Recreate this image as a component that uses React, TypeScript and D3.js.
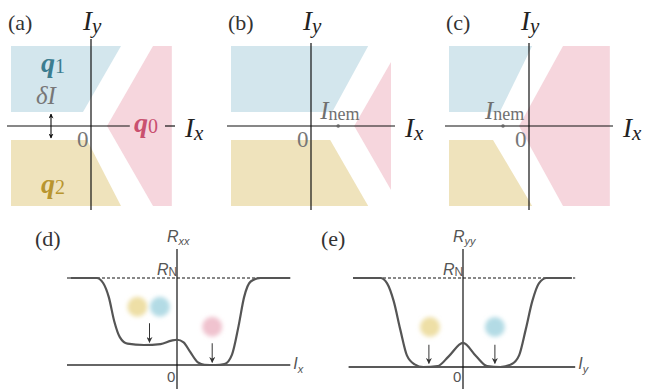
import React from "react";
import * as d3 from "d3";

const W = 645;
const H = 389;

// phase regions of the top panels, in current units (origin at the axis crossing)
const blueA = [[-2, 2], [0.75, 2], [-0.2, 0.35], [-2, 0.35]];
const yellowA = [[-2, -0.35], [-0.1, -0.35], [0.75, -2], [-2, -2]];
const pinkA = [[1.55, 2], [2.02, 2], [2.02, -2], [1.55, -2], [0.4, 0]];

const blueB = [[-2, 2], [1.43, 2], [0.53, 0.35], [-2, 0.35]];
const yellowB = [[-2, -0.35], [0.48, -0.35], [1.43, -2], [-2, -2]];
const pinkB = [[2, 1.6], [2, -1.6], [1.08, 0]];

const blueC = [[-2, 2], [0.08, 2], [-0.73, 0.35], [-2, 0.35]];
const yellowC = [[-2, -0.35], [-0.9, -0.35], [0.08, -2], [-2, -2]];
const pinkC = [[0.85, 2], [2.02, 2], [2.02, -2], [0.85, -2], [-0.25, 0]];

const topOrigins = [91, 311, 529];
const topLabels = ["(a)", "(b)", "(c)"];
const nemPos = [null, 0.68, -0.65];

// resistance curves, x in current units, y in units of R_N
const rxx = [
  [-0.97, 1], [-0.73, 1], [-0.67, 0.94], [-0.62, 0.78], [-0.57, 0.5], [-0.52, 0.32],
  [-0.45, 0.245], [-0.3, 0.23], [-0.15, 0.24], [-0.05, 0.28], [0, 0.29], [0.06, 0.26],
  [0.12, 0.15], [0.19, 0.03], [0.25, 0.002], [0.35, 0], [0.43, 0.01], [0.5, 0.12],
  [0.56, 0.45], [0.61, 0.78], [0.67, 0.96], [0.76, 1], [1.03, 1],
];
const ryy = [
  [-1.0, 1], [-0.75, 1], [-0.69, 0.94], [-0.63, 0.74], [-0.57, 0.42], [-0.51, 0.13],
  [-0.44, 0.03], [-0.36, 0], [-0.23, 0.01], [-0.13, 0.12], [0, 0.27], [0.12, 0.12],
  [0.22, 0.01], [0.34, 0], [0.44, 0.03], [0.51, 0.13], [0.57, 0.42], [0.63, 0.74],
  [0.69, 0.94], [0.76, 1], [0.99, 1],
];

// blurred dots above the curves: [x, y, colour]
const dotsXX = [[-0.36, 0.67, "#eedfa6"], [-0.155, 0.67, "#b3dbe5"], [0.32, 0.44, "#f0c3cf"]];
const dotsYY = [[-0.3, 0.45, "#eedfa6"], [0.29, 0.45, "#b3dbe5"]];
// arrows: [x, yTop, yBottom]
const arrowsXX = [[-0.25, 0.48, 0.26], [0.32, 0.25, 0.03]];
const arrowsYY = [[-0.31, 0.25, 0.04], [0.29, 0.25, 0.04]];

const regions = [
  [blueA, yellowA, pinkA],
  [blueB, yellowB, pinkB],
  [blueC, yellowC, pinkC],
];
const fills = ["#d3e6ed", "#efe3bc", "#f6d6dd"];

const serif = { fontFamily: "'Liberation Serif', 'Times New Roman', serif" };
const sans = { fontFamily: "'Liberation Sans', Arial, sans-serif" };

function TopPanel({ i }: { i: number }) {
  const ox = topOrigins[i];
  const x = d3.scaleLinear().domain([-2, 2]).range([ox - 80, ox + 80]);
  const y = d3.scaleLinear().domain([-2, 2]).range([206, 46]);
  const poly = (pts: number[][]) => pts.map(([a, b]) => `${x(a)},${y(b)}`).join(" ");
  const nem = nemPos[i];
  return (
    <g>
      {regions[i].map((r, k) => (
        <polygon key={k} points={poly(r)} fill={fills[k]} />
      ))}
      <line x1={x(0)} x2={x(0)} y1={i === 0 ? 39 : 43} y2={210} stroke="#111" strokeWidth={1.2} />
      {i === 0 ? (
        <g stroke="#111" strokeWidth={1.2}>
          <line x1={x(-2.1)} x2={x(0.97)} y1={y(0)} y2={y(0)} />
          <line x1={x(1.85)} x2={x(2.1)} y1={y(0)} y2={y(0)} />
        </g>
      ) : (
        <line x1={x(-2.1)} x2={x(2.1)} y1={y(0)} y2={y(0)} stroke="#111" strokeWidth={1.2} />
      )}
      <text x={ox - 83} y={30} style={serif} fontSize={22} fill="#333">{topLabels[i]}</text>
      <text x={ox - 8} y={30} style={serif} fontStyle="italic" fontSize={27} fill="#222">
        I<tspan fontSize={21} dy={3}>y</tspan>
      </text>
      <text x={ox + 94} y={137} style={serif} fontStyle="italic" fontSize={27} fill="#222">
        I<tspan fontSize={21} dy={3}>x</tspan>
      </text>
      <text x={x(0) - 14} y={147} style={serif} fontSize={23} fill="#777">0</text>
      {nem !== null && (
        <g>
          <circle cx={x(nem)} cy={y(0)} r={1.8} fill="#666" />
          <text x={x(nem) - 18} y={119} style={serif} fill="#707070">
            <tspan fontStyle="italic" fontSize={25}>I</tspan>
            <tspan fontSize={18} dy={1}>nem</tspan>
          </text>
        </g>
      )}
      {i === 0 && (
        <g style={serif}>
          <text x={41} y={72} fill="#3b7d90">
            <tspan fontStyle="italic" fontWeight="bold" fontSize={28}>q</tspan>
            <tspan fontSize={20} dy={1}>1</tspan>
          </text>
          <text x={41} y={193} fill="#b8952f">
            <tspan fontStyle="italic" fontWeight="bold" fontSize={28}>q</tspan>
            <tspan fontSize={20} dy={1}>2</tspan>
          </text>
          <text x={134} y={132} fill="#c9506f">
            <tspan fontStyle="italic" fontWeight="bold" fontSize={28}>q</tspan>
            <tspan fontSize={20} dy={1}>0</tspan>
          </text>
          <text x={36} y={104} fontStyle="italic" fontSize={25} fill="#777">δI</text>
          <line x1={51} x2={51} y1={y(0.35) + 2} y2={y(-0.35) - 2} stroke="#111" strokeWidth={1.1}
            markerStart="url(#ahead)" markerEnd="url(#ahead)" />
        </g>
      )}
    </g>
  );
}

type CurveProps = {
  ox: number;
  left: number;
  right: number;
  base: number;
  top: number;
  data: number[][];
  dots: (number | string)[][];
  arrows: number[][];
  label: string;
  rSub: string;
  iSub: string;
  thickAxis: boolean;
};

function CurvePanel(p: CurveProps) {
  const x = d3.scaleLinear().domain([-1, 1]).range([p.ox - 110, p.ox + 110]);
  const y = d3.scaleLinear().domain([0, 1]).range([p.base, p.top]);
  const line = d3.line<number[]>().x((d) => x(d[0])).y((d) => y(d[1])).curve(d3.curveMonotoneX);
  return (
    <g>
      {p.dots.map((d, k) => (
        <circle key={k} cx={x(d[0] as number)} cy={y(d[1] as number)} r={10} fill={d[2] as string} filter="url(#blur)" />
      ))}
      <line x1={x(-1)} x2={x(1.02)} y1={y(1)} y2={y(1)} stroke="#111" strokeWidth={1} strokeDasharray="3,2" />
      <line x1={x(p.left)} x2={x(p.right)} y1={y(0)} y2={y(0)}
        stroke={p.thickAxis ? "#666" : "#222"} strokeWidth={p.thickAxis ? 2.2 : 1.4} />
      <line x1={x(0)} x2={x(0)} y1={p.top - 29} y2={389} stroke="#111" strokeWidth={1.2} />
      <path d={line(p.data) || ""} fill="none" stroke="#555" strokeWidth={2.2} />
      {p.arrows.map((a, k) => (
        <line key={k} x1={x(a[0])} x2={x(a[0])} y1={y(a[1])} y2={y(a[2])} stroke="#333" strokeWidth={1}
          markerEnd="url(#ahead2)" />
      ))}
      <text x={p.ox - 142} y={246} style={serif} fontSize={22} fill="#333">{p.label}</text>
      <text x={x(0) - 10} y={242} style={sans} fill="#555">
        <tspan fontStyle="italic" fontSize={16}>R</tspan>
        <tspan fontStyle="italic" fontSize={11} dy={3}>{p.rSub}</tspan>
      </text>
      <text x={x(0) - 20} y={275} style={sans} fill="#555">
        <tspan fontStyle="italic" fontSize={16}>R</tspan>
        <tspan fontSize={12} dy={1}>N</tspan>
      </text>
      <text x={x(0) - 10} y={382} style={sans} fontSize={15} fill="#555">0</text>
      <text x={x(p.right) + 3} y={369} style={sans} fill="#555">
        <tspan fontStyle="italic" fontSize={16}>I</tspan>
        <tspan fontStyle="italic" fontSize={11} dy={4}>{p.iSub}</tspan>
      </text>
    </g>
  );
}

export default function App() {
  return (
    <svg width={W} height={H} viewBox={`0 0 ${W} ${H}`}
      style={{ position: "absolute", left: 0, top: 0, background: "#fff" }}>
      <defs>
        <filter id="blur" x="-50%" y="-50%" width="200%" height="200%">
          <feGaussianBlur stdDeviation={2.2} />
        </filter>
        <marker id="ahead" viewBox="0 0 10 10" refX={9} refY={5} markerWidth={5} markerHeight={5}
          orient="auto-start-reverse" markerUnits="userSpaceOnUse">
          <path d="M0,0 L10,5 L0,10 L3,5 z" fill="#111" />
        </marker>
        <marker id="ahead2" viewBox="0 0 10 10" refX={9} refY={5} markerWidth={6} markerHeight={6}
          orient="auto" markerUnits="userSpaceOnUse">
          <path d="M0,0 L10,5 L0,10 L3,5 z" fill="#333" />
        </marker>
      </defs>
      {[0, 1, 2].map((i) => (
        <TopPanel key={i} i={i} />
      ))}
      <CurvePanel ox={177} left={-1} right={1.03} base={365} top={278} data={rxx} dots={dotsXX}
        arrows={arrowsXX} label="(d)" rSub="xx" iSub="x" thickAxis={true} />
      <CurvePanel ox={463} left={-1.04} right={1.02} base={367} top={278} data={ryy} dots={dotsYY}
        arrows={arrowsYY} label="(e)" rSub="yy" iSub="y" thickAxis={false} />
    </svg>
  );
}
